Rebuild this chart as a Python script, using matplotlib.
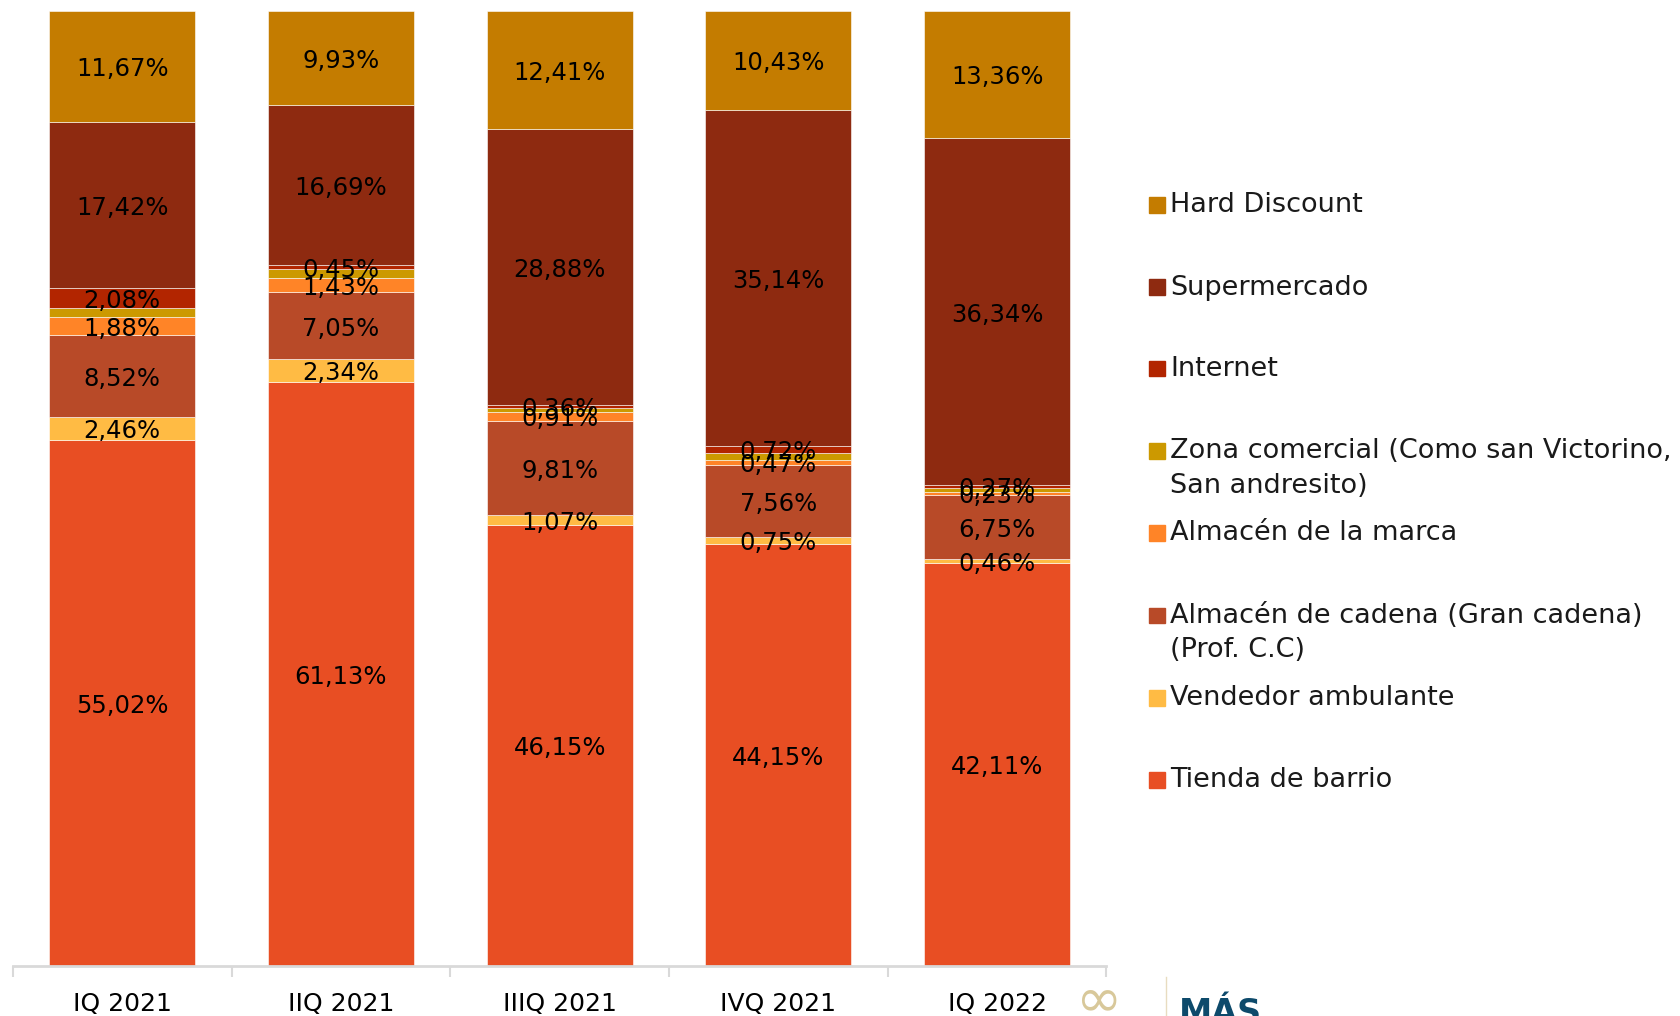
import numpy as np
import matplotlib.pyplot as plt
from matplotlib.patches import Rectangle

# data (percent of purchases by channel)
quarters = ["IQ 2021", "IIQ 2021", "IIIQ 2021", "IVQ 2021", "IQ 2022"]
series = ["Tienda de barrio", "Vendedor ambulante", "Almacén de cadena (Gran cadena)\n(Prof. C.C)",
          "Almacén de la marca", "Zona comercial (Como san Victorino,\nSan andresito)", "Internet",
          "Supermercado", "Hard Discount"]
tienda = [55.02, 61.13, 46.15, 44.15, 42.11]
vendedor = [2.46, 2.34, 1.07, 0.75, 0.46]
cadena = [8.52, 7.05, 9.81, 7.56, 6.75]
marca = [1.88, 1.43, 0.91, 0.47, 0.23]
zona = [0.95, 0.98, 0.41, 0.78, 0.48]   # not labelled in the original
internet = [2.08, 0.45, 0.36, 0.72, 0.27]
super_ = [17.42, 16.69, 28.88, 35.14, 36.34]
hard = [11.67, 9.93, 12.41, 10.43, 13.36]

values = [tienda, vendedor, cadena, marca, zona, internet, super_, hard]
colors = ["#E84E23", "#FFBB44", "#B84A28", "#FF8427", "#CC9900", "#B22500", "#8E2A10", "#C47C00"]
show_label = [True, True, True, True, False, True, True, True]

plt.rcParams['font.family'] = ['DejaVu Sans']

fig = plt.figure(figsize=(16.81, 10.16), dpi=100)
ax = fig.add_axes([0.0077, 0.0496, 0.6505, 0.94])

x = np.arange(len(quarters))
bottom = np.zeros(len(quarters))
for vals, col, lab in zip(values, colors, show_label):
    vals = np.array(vals)
    ax.bar(x, vals, width=0.667, bottom=bottom, color=col, edgecolor="white", linewidth=0.4)
    if lab:
        for xi, b, v in zip(x, bottom, vals):
            ax.text(xi, b + v / 2 - 0.3, f"{v:.2f}%".replace(".", ","), ha="center", va="center",
                    fontsize=17.5, color="black")
    bottom += vals

ax.set_xlim(-0.5, 4.5)
ax.set_ylim(0, bottom.max())
ax.set_yticks([])
for s in ["top", "right", "left"]:
    ax.spines[s].set_visible(False)
ax.spines["bottom"].set_color("#d9d9d9")
ax.spines["bottom"].set_linewidth(2)
ax.set_xticks(x)
ax.set_xticklabels(quarters, fontsize=18)
ax.tick_params(axis="x", length=0, pad=19)
ax.set_xticks(np.arange(-0.5, 5, 1), minor=True)
ax.tick_params(axis="x", which="minor", length=8, width=1.5, color="#d9d9d9")

# legend drawn by hand (top entry first)
leg_y = [0.798, 0.717, 0.637, 0.556, 0.475, 0.394, 0.313, 0.232]
for yy, name, col in zip(leg_y, series[::-1], colors[::-1]):
    fig.patches.append(Rectangle((0.6835, yy - 0.0075), 0.0093, 0.0155, transform=fig.transFigure,
                                 color=col))
    for k, ln in enumerate(name.split("\n")):
        fig.text(0.6962, yy - k * 0.034, ln, fontsize=19.5, ha="left", va="center", color="#1a1a1a")

# partial logo at bottom right
fig.add_artist(plt.Line2D([0.6935, 0.6935], [0.0, 0.038], transform=fig.transFigure,
                          color="#e8dcc0", linewidth=1))
fig.text(0.701, -0.014, "MÁS", fontsize=24, fontweight="bold", color="#0d4a6b", ha="left", va="bottom")
fig.text(0.640, -0.012, "∞", fontsize=40, color="#d8c89a", ha="left", va="bottom")

fig.savefig("out.png", dpi=100)
